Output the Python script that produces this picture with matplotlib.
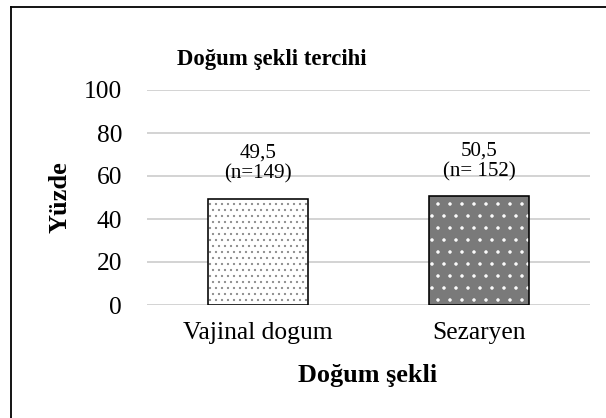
import matplotlib.pyplot as plt
from matplotlib.lines import Line2D

categories = ['Vajinal dogum', 'Sezaryen']
percent = [49.5, 50.5]
value_labels = ['49,5', '50,5']
n_labels = ['(n=149)', '(n= 152)']
y_ticks = [0, 20, 40, 60, 80, 100]

DPI = 144
W, H = 606, 418

plt.rcParams['font.family'] = ['Liberation Serif', 'DejaVu Serif']
plt.rcParams['hatch.linewidth'] = 0.5

fig = plt.figure(figsize=(W / DPI, H / DPI), dpi=DPI)

# plot area in pixels: left 147, right 590, top 90, bottom 305
ax = fig.add_axes([147 / W, 1 - 305 / H, (590 - 147) / W, 215 / H])

x = range(len(categories))
face = ['white', '#7a7a7a']
dots = ['#8c8c8c', 'white']
hatches = ['....', '..']
for i in x:
    ax.bar(i, percent[i], width=0.45, color=face[i], edgecolor=dots[i],
           hatch=hatches[i], linewidth=0, zorder=2)
    ax.bar(i, percent[i], width=0.45, fill=False, edgecolor='black',
           linewidth=0.8, zorder=3)
    ax.annotate(value_labels[i], (i, percent[i]), xytext=(0, 20.3),
                textcoords='offset points', ha='center', va='baseline',
                fontsize=10.5)
    ax.annotate(n_labels[i], (i, percent[i]), xytext=(0, 9.8),
                textcoords='offset points', ha='center', va='baseline',
                fontsize=10.5)

ax.set_xlim(-0.5, 1.5)
ax.set_ylim(0, 100)
ax.set_yticks(y_ticks)
ax.set_xticks(list(x))
ax.set_xticklabels(categories)
ax.tick_params(axis='both', length=0, labelsize=12.75)
ax.tick_params(axis='y', pad=12.5)
ax.tick_params(axis='x', pad=8.5)
ax.grid(axis='y', color='#d4d4d4', linewidth=1.0, zorder=0)
ax.set_axisbelow(True)
for s in ax.spines.values():
    s.set_visible(False)

fig.text(272 / W, 1 - 65 / H, 'Doğum şekli tercihi', ha='center', va='baseline',
         fontsize=11.4, fontweight='bold')
fig.text(368 / W, 1 - 382 / H, 'Doğum şekli', ha='center', va='baseline',
         fontsize=13.1, fontweight='bold')
fig.text(60 / W, 1 - 197.5 / H, 'Yüzde', ha='center', va='center',
         rotation=90, fontsize=13.1, fontweight='bold')

# outer chart border (only top and left edges fall inside the image)
fig.add_artist(Line2D([11 / W, 1], [1 - 6.5 / H, 1 - 6.5 / H],
                      transform=fig.transFigure, color='black', linewidth=0.9))
fig.add_artist(Line2D([11 / W, 11 / W], [0, 1 - 6.5 / H],
                      transform=fig.transFigure, color='black', linewidth=0.9))

fig.savefig('out.png', dpi=DPI)
